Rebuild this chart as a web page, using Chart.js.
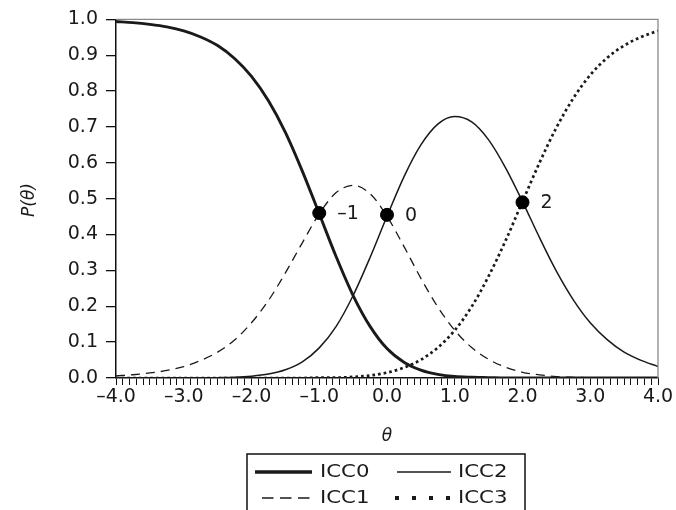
<!DOCTYPE html>
<html>
<head>
<meta charset="utf-8">
<script src="https://cdn.jsdelivr.net/npm/chart.js@4.4.1/dist/chart.umd.min.js"></script>
<style>
html,body{margin:0;padding:0;background:#fff;}
#wrap{width:676px;height:510px;position:relative;}
</style>
</head>
<body>
<div id="wrap"><canvas id="c" width="676" height="510"></canvas></div>
<script>
// ---- data ----
const theta = [-4,-3.75,-3.5,-3.25,-3,-2.75,-2.5,-2.25,-2,-1.75,-1.5,-1.25,-1,-0.75,-0.5,-0.25,0,0.25,0.5,0.75,1,1.25,1.5,1.75,2,2.25,2.5,2.75,3,3.25,3.5,3.75,4];
const icc0 = [0.994,0.991,0.986,0.979,0.968,0.951,0.927,0.891,0.841,0.773,0.685,0.577,0.458,0.338,0.230,0.144,0.082,0.044,0.022,0.010,0.004,0.002,0.001,0,0,0,0,0,0,0,0,0,0];
const icc1 = [0.006,0.009,0.014,0.021,0.032,0.049,0.072,0.106,0.154,0.216,0.293,0.377,0.458,0.517,0.537,0.514,0.451,0.367,0.278,0.198,0.133,0.085,0.052,0.030,0.016,0.009,0.004,0.002,0.001,0,0,0,0];
const icc2 = [0,0,0,0,0,0,0.001,0.002,0.005,0.011,0.023,0.045,0.084,0.144,0.230,0.336,0.451,0.561,0.650,0.708,0.729,0.714,0.664,0.586,0.492,0.392,0.298,0.218,0.154,0.107,0.072,0.049,0.032];
const icc3 = [0,0,0,0,0,0,0,0,0,0,0,0,0.001,0.001,0.003,0.007,0.015,0.029,0.051,0.085,0.133,0.199,0.284,0.383,0.492,0.600,0.698,0.780,0.845,0.893,0.927,0.951,0.968];
const seriesNames = ['ICC0','ICC1','ICC2','ICC3'];
const crossTheta = [-1, 0, 2];
const crossP = [0.46, 0.455, 0.49];
const crossLabels = ['\u20131', '0', '2'];
const xTitle = '\u03B8';
const yTitle = 'P(\u03B8)';

const FONT = "'DejaVu Sans', 'Liberation Sans', Arial, sans-serif";
const INK = '#1a1a1a';

function pts(xs, ys){ return xs.map((x,i)=>({x:x, y:ys[i]})); }

const styles = {
  ICC0:{w:2.9, dash:[], lw:3.6, ldash:[]},
  ICC1:{w:1.3, dash:[9,6], lw:1.6, ldash:[11.5,6.5]},
  ICC2:{w:1.5, dash:[], lw:1.5, ldash:[]},
  ICC3:{w:2.7, dash:[2.7,3], lw:4, ldash:[4,13]}
};
const seriesData = [icc0, icc1, icc2, icc3];

const datasets = [{
  type:'scatter',
  label:'cross',
  data: pts(crossTheta, crossP),
  pointRadius:6.5,
  pointBackgroundColor:'#000',
  pointBorderColor:'#000',
  showLine:false,
  order:-1
}];
seriesNames.forEach((n,i)=>{
  datasets.push({
    type:'line',
    label:n,
    data: pts(theta, seriesData[i]),
    borderColor: INK,
    borderWidth: styles[n].w,
    borderDash: styles[n].dash,
    pointRadius:0,
    fill:false,
    cubicInterpolationMode:'monotone',
    order:i
  });
});

const fmt = v => {
  const r = Math.round(v*10)/10;
  if (Math.abs(r - Math.round(r)) > 1e-6) return '';
  return (r < 0 ? '\u2013' : '') + Math.abs(r).toFixed(1);
};

function stretchText(ctx, txt, x, y, sx){
  ctx.save();
  ctx.translate(x, y);
  ctx.scale(sx, 1);
  ctx.fillText(txt, 0, 0);
  ctx.restore();
}

const decor = {
  id:'decor',
  afterDraw(chart){
    const ctx = chart.ctx, a = chart.chartArea;
    const xs = chart.scales.x, ys = chart.scales.y;
    ctx.save();
    // top & right frame
    ctx.strokeStyle = '#8a8a8a';
    ctx.lineWidth = 1.3;
    ctx.beginPath();
    ctx.moveTo(a.left, a.top); ctx.lineTo(a.right, a.top); ctx.lineTo(a.right, a.bottom);
    ctx.stroke();
    // crossing labels
    ctx.fillStyle = INK;
    ctx.font = "19px " + FONT;
    ctx.textBaseline = 'middle';
    ctx.textAlign = 'left';
    crossTheta.forEach((t,i)=>{
      ctx.fillText(crossLabels[i], xs.getPixelForValue(t) + 18, ys.getPixelForValue(crossP[i]) + 1);
    });
    // axis titles
    ctx.font = "italic 17px " + FONT;
    ctx.textAlign = 'center';
    ctx.fillText(xTitle, (a.left + a.right)/2, 437);
    ctx.save();
    ctx.translate(30, 200);
    ctx.rotate(-Math.PI/2);
    ctx.fillText(yTitle, 0, 0);
    ctx.restore();
    // legend box
    const L = 247, T = 454, R = 525;
    ctx.strokeStyle = '#111';
    ctx.lineWidth = 1.5;
    ctx.strokeRect(L, T, R - L, 70);
    const cells = [
      {name:'ICC0', x0:255, x1:312, y:472, tx:320},
      {name:'ICC2', x0:397, x1:451, y:472, tx:458},
      {name:'ICC1', x0:262, x1:312, y:498, tx:320},
      {name:'ICC3', x0:395, x1:452, y:498, tx:458}
    ];
    ctx.font = "17px " + FONT;
    ctx.textAlign = 'left';
    cells.forEach(c=>{
      const s = styles[c.name];
      ctx.beginPath();
      ctx.setLineDash(s.ldash);
      ctx.lineWidth = s.lw;
      ctx.strokeStyle = INK;
      ctx.moveTo(c.x0, c.y); ctx.lineTo(c.x1, c.y);
      ctx.stroke();
      ctx.setLineDash([]);
      stretchText(ctx, c.name, c.tx, c.y + 1, 1.25);
    });
    ctx.restore();
  }
};

new Chart(document.getElementById('c'), {
  type:'line',
  data:{ datasets },
  options:{
    responsive:false,
    animation:false,
    layout:{ padding:{ left:0, top:19, right:18, bottom:0 } },
    plugins:{ legend:{display:false}, tooltip:{enabled:false} },
    scales:{
      x:{
        type:'linear', min:-4, max:4,
        afterFit(s){ s.height = 132; },
        ticks:{ stepSize:0.1, autoSkip:false, maxRotation:0, minRotation:0, padding:1,
          font:{family:FONT, size:19}, color:INK, callback:(v)=>fmt(v) },
        grid:{ drawOnChartArea:false, drawTicks:true, tickLength:7, tickColor:'#111', lineWidth:1 },
        border:{ display:true, color:'#111', width:1.5 }
      },
      y:{
        type:'linear', min:0, max:1,
        afterFit(s){ s.width = 116; },
        ticks:{ stepSize:0.1, autoSkip:false, padding:8,
          font:{family:FONT, size:19}, color:INK, callback:(v)=>(Math.round(v*10)/10).toFixed(1) },
        grid:{ drawOnChartArea:false, drawTicks:true, tickLength:10, tickColor:'#111', lineWidth:1.3 },
        border:{ display:true, color:'#111', width:1.5 }
      }
    }
  },
  plugins:[decor]
});
</script>
</body>
</html>
